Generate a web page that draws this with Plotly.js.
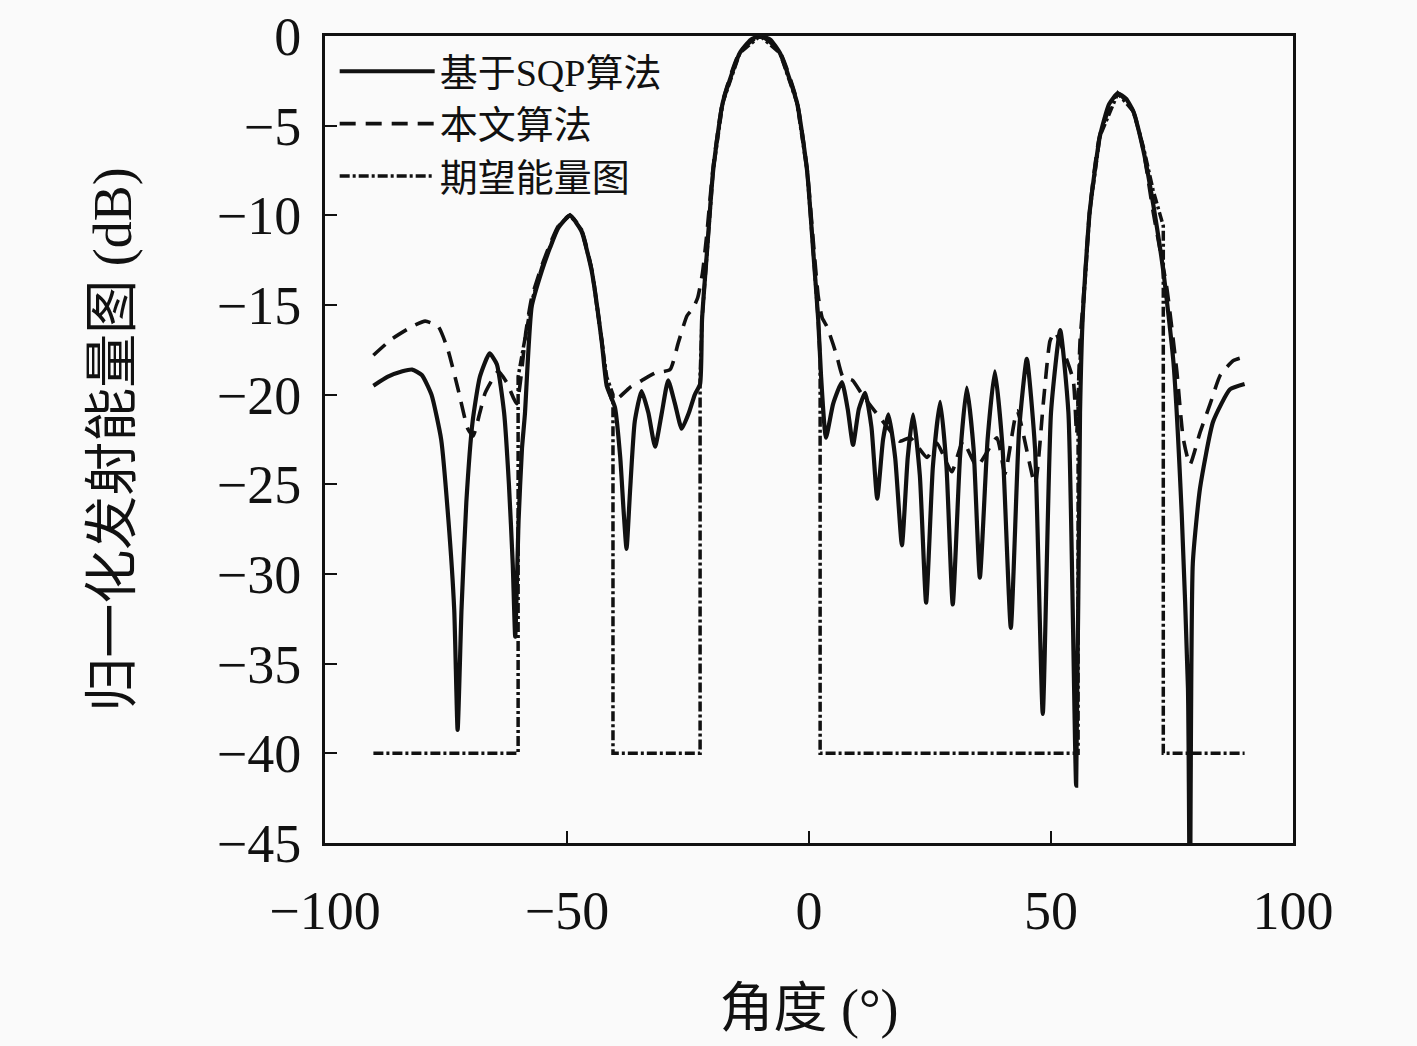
<!DOCTYPE html>
<html>
<head>
<meta charset="utf-8">
<script src="https://cdn.plot.ly/plotly-3.0.1.min.js"></script>
<style>
  html, body { margin: 0; padding: 0; background: #fafafa; }
  #chart { width: 1417px; height: 1046px; }
</style>
</head>
<body>
<div id="chart"></div>
<script>
// 基于SQP算法 (solid)
var sqpAngle = [-90, -87, -84, -82, -80, -78, -76, -74.5, -73.3, -72.6, -71.8, -70.8, -69.5, -68, -66, -64.5, -63, -62, -61.2, -60.7,
    -60, -59.3, -58.7, -57.3, -55.2, -53.5, -51.8, -49.4, -47, -44.9, -42.8, -41.8, -40.1, -39, -38.3, -37.7, -37, -36, -34.6, -33.2,
    -31.8, -30.4, -29.1, -27.7, -26.3, -24.8, -23.6, -22.5, -22.1, -21.1, -19.8, -17.8, -14.3, -12, -10.1, -8, -6, -2.5, -0.4, 0.9,
    1.9, 2.5, 3.5, 5, 6.8, 8, 9.1, 10.3, 11.6, 12.9, 14.1, 15.3, 16.4, 17.8, 19.2, 20.4, 21.5, 22.9, 24.2, 25.6,
    27.1, 28.4, 29.7, 31.2, 32.6, 34, 35.3, 36.9, 38.4, 40, 41.7, 43.4, 45, 46.7, 48.3, 50, 51.9, 53.6, 55.2, 56,
    56.6, 58, 60.1, 62, 63.8, 65.5, 67, 69.1, 70.5, 73.2, 75.3, 77, 78.3, 78.7, 79.3, 80.8, 83.5, 87, 90];
var sqpGain = [-19.5, -19.0, -18.7, -18.6, -18.9, -20.0, -22.5, -27, -32, -38.7, -32, -26, -21.5, -19, -17.7, -18.3, -21, -25, -29.5, -33.5,
    -27, -23, -21.1, -15.1, -13.1, -11.8, -10.7, -10.0, -10.9, -13.1, -17.1, -19.5, -20.7, -23.5, -26.5, -28.6, -25.5, -21.5, -19.8, -21,
    -22.9, -21, -19.2, -20.5, -21.9, -21, -20, -19.4, -15.8, -12.1, -7.5, -3.7, -0.95, -0.2, 0, -0.2, -0.95, -3.7, -7.5, -12.1,
    -15.8, -19, -22.4, -20.5, -19.3, -20.8, -22.8, -20.8, -19.9, -21.8, -25.8, -22.5, -21.1, -23.5, -28.4, -23.5, -21.1, -24.5, -31.6, -24,
    -20.4, -24, -31.7, -23.5, -19.6, -23, -30.2, -22.5, -18.7, -23, -33, -22, -18, -23, -37.8, -21, -16.4, -21, -41.8, -21,
    -15.4, -9.8, -5.6, -3.8, -3.2, -3.5, -4.2, -6.4, -8.4, -13.1, -18.2, -26.6, -36.4, -50, -29.4, -25.2, -21.5, -19.7, -19.4];

// 本文算法 (dashed)
var oursAngle = [-90, -86.2, -82, -79.3, -76.6, -74.6, -72.5, -70.5, -69.4, -68, -66.9, -64.2, -62.5, -60.4, -59.5, -58.5, -57.3, -55.2, -53.5, -51.8,
    -49.4, -47, -44.9, -42.8, -41.8, -40.5, -39, -37, -34.5, -31.8, -28.7, -27, -25.2, -24, -23, -22, -21.1, -19.8, -17.8, -14.3,
    -10.1, -6, -2.5, -0.4, 0.9, 1.9, 2.7, 3.7, 5, 5.8, 7, 9, 11, 14.7, 18.8, 20.9, 24.4, 26.4, 29.5, 31.8,
    34.7, 38.8, 40.5, 43, 46.7, 48.4, 49.8, 50.8, 52.5, 54.6, 55.3, 56, 56.6, 58, 60.1, 63.8, 67, 69.1, 71.1, 73.9,
    76, 77.3, 78.7, 80.8, 82.9, 85, 87.7, 90];
var oursGain = [-17.8, -16.9, -16.2, -15.9, -16.2, -17.5, -19.7, -21.9, -22.3, -21, -19.9, -18.7, -19.3, -20.5, -19, -16.5, -14.6, -12.8, -11.6, -10.6,
    -10.0, -10.8, -13, -17, -19.3, -20.4, -20.1, -19.6, -19.2, -18.8, -18.6, -17.1, -15.6, -15.2, -14.6, -13.2, -11, -7.3, -3.6, -0.9,
    0, -0.9, -3.6, -7.4, -11.5, -14.5, -15.7, -16.2, -17.2, -17.9, -19, -19.2, -20, -21.3, -22.6, -22.4, -23.5, -22.7, -24.3, -22.6,
    -24, -22.4, -24.4, -20.9, -25, -20.5, -17, -16.5, -17.5, -19.2, -22.2, -17, -15, -9.7, -5.5, -3.2, -4.2, -6.4, -9.8, -14,
    -18.7, -22.4, -23.9, -22.1, -20.5, -18.9, -18.1, -17.9];

// 期望能量图 (dash-dot)
var targetAngle = [-90, -60.1, -60.1, -58.7, -57.3, -55.2, -53.5, -51.8, -49.4, -47, -44.9, -42.8, -41.8, -40.5, -40.5,
    -22.5, -22.5, -22.1, -21.1, -19.8, -17.8, -14.3, -10.1, -6, -2.5, -0.4, 0.9, 1.9, 2.3, 2.3,
    55.6, 55.6, 56.6, 58, 60.1, 63.8, 67, 69.1, 71.1, 73.2, 73.2, 90];
var targetGain = [-40, -40, -19, -17, -14.8, -12.9, -11.7, -10.6, -10, -10.8, -13, -17, -19, -20, -40,
    -40, -19, -15.8, -12.1, -7.5, -3.7, -0.95, 0, -0.95, -3.7, -7.5, -12.1, -15.8, -18, -40,
    -40, -20, -15.4, -9.8, -5.6, -3.2, -4.2, -6.2, -8.6, -10.6, -40, -40];

var serif = 'Liberation Serif, "Noto Sans CJK SC", serif';

var traces = [
    {
        x: sqpAngle, y: sqpGain, type: 'scatter', mode: 'lines', name: '基于SQP算法',
        line: {color: '#111', width: 4.2, shape: 'spline', smoothing: 0.5}
    },
    {
        x: oursAngle, y: oursGain, type: 'scatter', mode: 'lines', name: '本文算法',
        line: {color: '#111', width: 3.6, dash: '16px,10px', shape: 'spline', smoothing: 0.5}
    },
    {
        x: targetAngle, y: targetGain, type: 'scatter', mode: 'lines', name: '期望能量图',
        line: {color: '#111', width: 3.5, dash: '10px,3px,3px,3px'}
    }
];

var layout = {
    width: 1417,
    height: 1046,
    paper_bgcolor: '#fafafa',
    plot_bgcolor: '#fafafa',
    margin: {l: 325, r: 124, t: 36, b: 203},
    font: {family: serif, color: '#111', size: 50},
    showlegend: true,
    legend: {
        x: 0.01, y: 0.995, xanchor: 'left', yanchor: 'top',
        bgcolor: 'rgba(0,0,0,0)', font: {size: 38, family: serif},
        tracegroupgap: 0, itemwidth: 95
    },
    xaxis: {
        range: [-100, 100],
        tickvals: [-100, -50, 0, 50, 100],
        ticks: 'inside', ticklen: 12, tickwidth: 2, tickcolor: '#111',
        showline: true, linewidth: 3, linecolor: '#111', mirror: true,
        showgrid: false, zeroline: false,
        tickfont: {size: 54, family: serif},
        ticklabelstandoff: 18,
        title: {text: '角度 (°)', font: {size: 54, family: serif}, standoff: 50}
    },
    yaxis: {
        range: [-45, 0],
        dtick: 5,
        ticks: 'inside', ticklen: 12, tickwidth: 2, tickcolor: '#111',
        showline: true, linewidth: 3, linecolor: '#111', mirror: true,
        showgrid: false, zeroline: false,
        tickfont: {size: 54, family: serif},
        ticklabelstandoff: 10,
        title: {text: '归一化发射能量图 (dB)', font: {size: 54, family: serif}, standoff: 68}
    }
};

Plotly.newPlot('chart', traces, layout, {staticPlot: true});
</script>
</body>
</html>
